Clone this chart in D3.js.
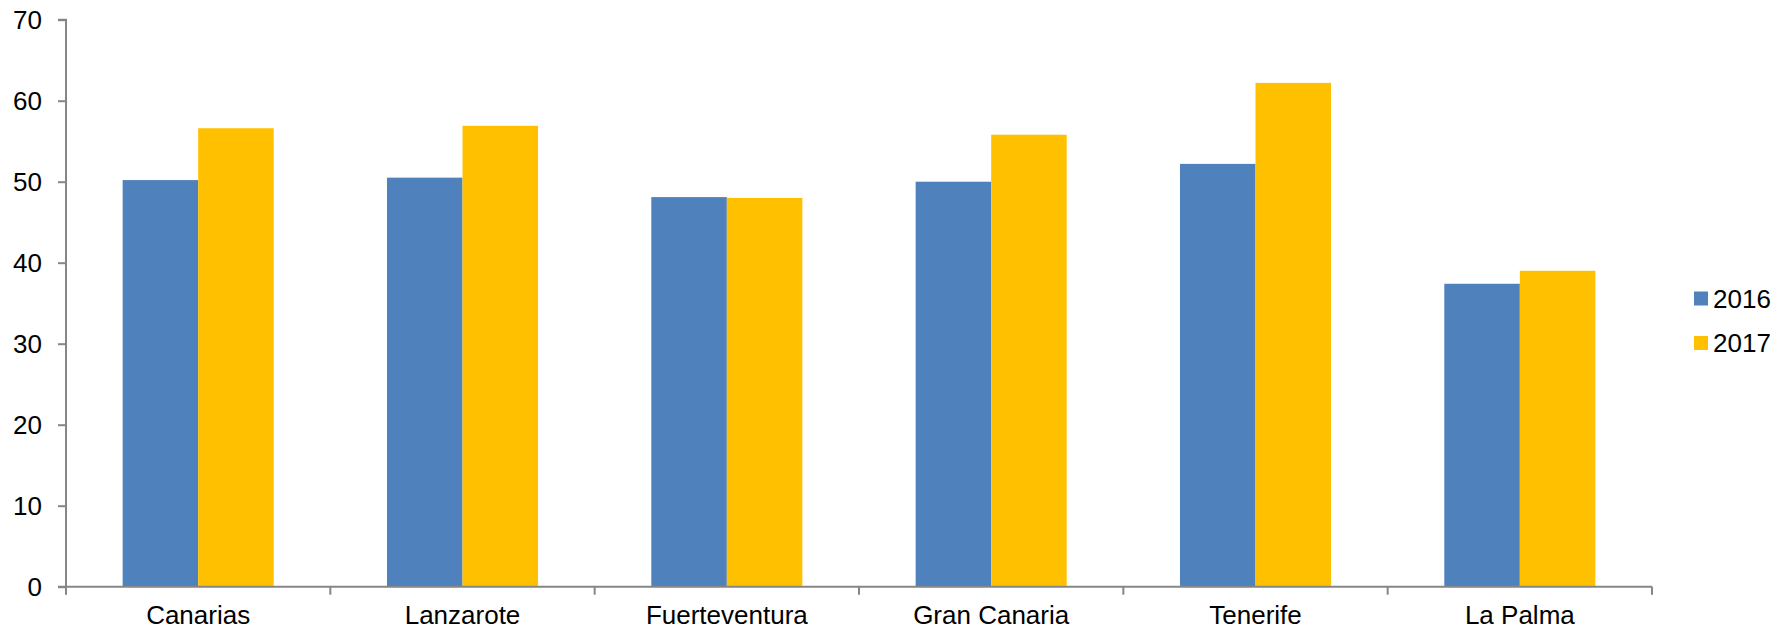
<!DOCTYPE html>
<html><head><meta charset="utf-8">
<script src="https://cdn.jsdelivr.net/npm/d3@7"></script>
<style>body{margin:0;background:#fff}svg{display:block}text{font-family:"Liberation Sans",Arial,sans-serif;fill:#000}</style>
</head><body>
<svg id="c" width="1789" height="630"></svg>
<script>
const categories = ["Canarias","Lanzarote","Fuerteventura","Gran Canaria","Tenerife","La Palma"];
const seriesNames = ["2016","2017"];
const values2016 = [50.2, 50.5, 48.1, 50.0, 52.2, 37.4];
const values2017 = [56.6, 56.9, 48.0, 55.8, 62.2, 39.0];
const yTicks = [0,10,20,30,40,50,60,70];
const colors = ["#4F81BD","#FFC000"];

(function(){
const svg = d3.select("#c");
const mLeft = 66, mRight = 1652, mTop = 19.7, mBottom = 586.7;
const x = d3.scaleBand().domain(categories).range([mLeft, mRight]).paddingInner(0).paddingOuter(0);
const y = d3.scaleLinear().domain([0,70]).range([mBottom, mTop]);
const bw = x.bandwidth() / 3.5;
const axisColor = "#868686";

// bars
const series = [values2016, values2017];
series.forEach((vals, si) => {
  svg.append("g").selectAll("rect").data(categories).join("rect")
    .attr("x", d => x(d) + bw*0.75 + si*bw)
    .attr("y", (d,i) => y(vals[i]))
    .attr("width", bw)
    .attr("height", (d,i) => y(0) - y(vals[i]))
    .attr("fill", colors[si]);
});

// y axis
const yAxis = d3.axisLeft(y).tickValues(yTicks).tickSize(8).tickPadding(16).tickFormat(d3.format("d"));
const gy = svg.append("g").attr("transform", `translate(${mLeft},0)`).call(yAxis);
gy.select(".domain").attr("stroke", axisColor).attr("stroke-width", 2).attr("d", `M-8,${mTop}H0V${mBottom}H-8`);
gy.selectAll(".tick line").attr("stroke", axisColor).attr("stroke-width", 2);
gy.selectAll(".tick text").attr("font-size", 26).attr("font-family", '"Liberation Sans",Arial,sans-serif').attr("fill","#000");

// x axis
const gx = svg.append("g").attr("transform", `translate(0,${mBottom})`);
gx.append("line").attr("x1", mLeft).attr("x2", mRight).attr("y1",0).attr("y2",0).attr("stroke", axisColor).attr("stroke-width",2);
const bounds = categories.map(c => x(c)).concat([mRight]);
gx.selectAll("line.tk").data(bounds).join("line").attr("class","tk")
  .attr("x1", d=>d).attr("x2", d=>d).attr("y1",0).attr("y2",8).attr("stroke", axisColor).attr("stroke-width",2);
gx.selectAll("text").data(categories).join("text")
  .attr("x", d => x(d) + x.bandwidth()/2).attr("y", 37.5)
  .attr("text-anchor","middle").attr("font-size",26).text(d=>d);

// legend
const lg = svg.append("g");
seriesNames.forEach((s,i) => {
  const cy = 298.5 + i*44.5;
  lg.append("rect").attr("x",1694).attr("y",cy-7).attr("width",14).attr("height",14).attr("fill",colors[i]);
  lg.append("text").attr("x",1713).attr("y",cy+9).attr("font-size",26).text(s);
});
})();
</script>
</body></html>
